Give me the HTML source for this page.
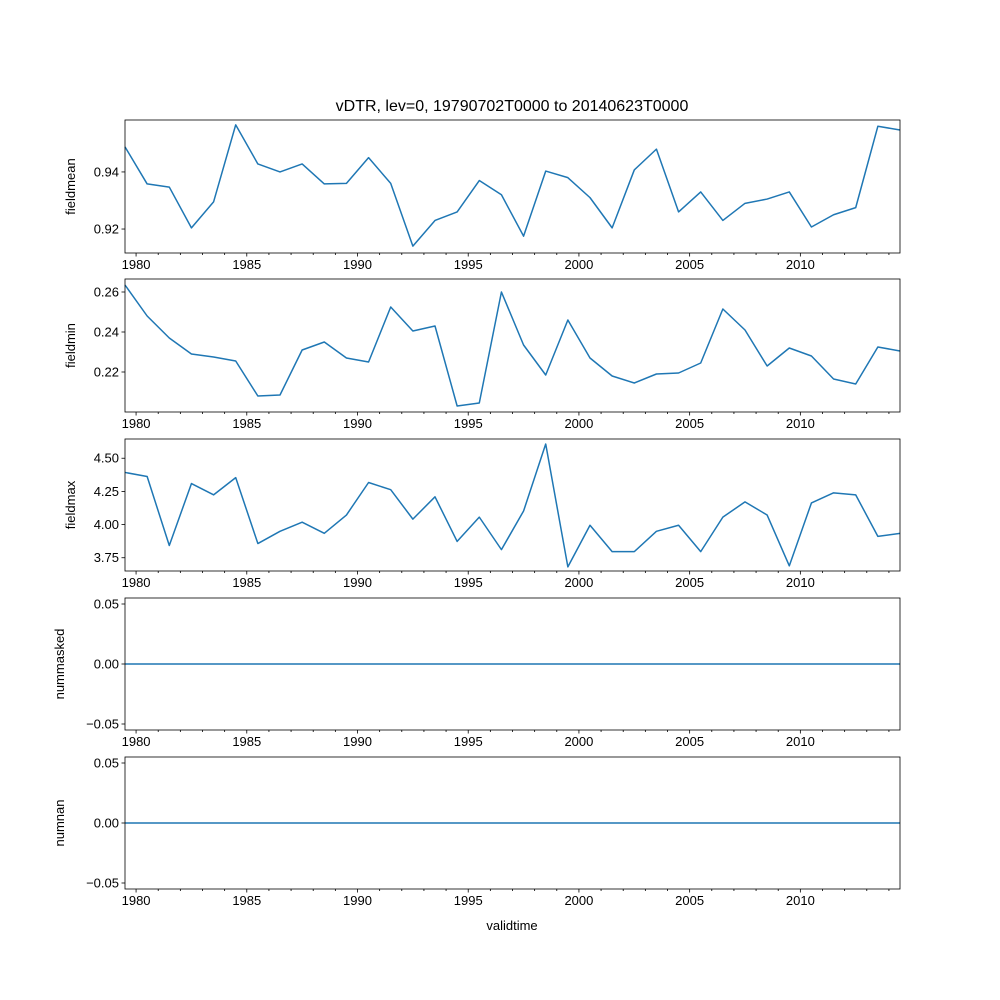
<!DOCTYPE html>
<html><head><meta charset="utf-8"><style>
body{margin:0;background:#fff}
svg{display:block;font-family:"Liberation Sans","DejaVu Sans",sans-serif}
</style></head><body>
<svg id="c" width="1000" height="1000"></svg>
<script>
const years = [];
for (let i = 0; i < 36; i++) years.push(1979.5 + i);
const fieldmean = [0.9488,0.9358,0.9347,0.9204,0.9295,0.9565,0.9428,0.94,0.9428,0.9358,0.936,0.945,0.936,0.914,0.923,0.926,0.937,0.932,0.9175,0.9403,0.938,0.931,0.9204,0.9407,0.948,0.926,0.933,0.923,0.929,0.9305,0.933,0.9207,0.925,0.9275,0.956,0.9547];
const fieldmin = [0.2635,0.248,0.237,0.229,0.2275,0.2255,0.208,0.2085,0.231,0.235,0.227,0.225,0.2525,0.2405,0.243,0.203,0.2045,0.26,0.2335,0.2185,0.246,0.227,0.218,0.2145,0.219,0.2195,0.2245,0.2515,0.241,0.223,0.232,0.228,0.2165,0.214,0.2325,0.2305];
const fieldmax = [4.393,4.362,3.842,4.309,4.224,4.354,3.857,3.949,4.018,3.934,4.072,4.317,4.263,4.041,4.209,3.873,4.056,3.811,4.102,4.607,3.681,3.995,3.796,3.796,3.949,3.995,3.796,4.056,4.171,4.072,3.689,4.163,4.239,4.224,3.911,3.934];
const nummasked = new Array(36).fill(0);
const numnan = new Array(36).fill(0);
const xTicks = [1980,1985,1990,1995,2000,2005,2010];
const meanTicks = [0.92,0.94];
const minTicks = [0.22,0.24,0.26];
const maxTicks = [3.75,4.00,4.25,4.50];
const zeroTicks = [-0.05,0,0.05];

const svg = document.getElementById('c');
const NS = 'http://www.w3.org/2000/svg';
function mk(tag, attrs, parent){const e=document.createElementNS(NS,tag);for(const k in attrs)e.setAttribute(k,attrs[k]);(parent||svg).appendChild(e);return e;}
const X0=125,X1=900,xmin=1979.5,xmax=2014.5;
const xs = v => X0 + (v - xmin) / (xmax - xmin) * (X1 - X0);

const panels = [
 {name:'fieldmean',data:fieldmean,ticks:meanTicks,dec:2,top:120,bot:253,lo:0.9116,hi:0.9582},
 {name:'fieldmin',data:fieldmin,ticks:minTicks,dec:2,top:279,bot:412,lo:0.2000,hi:0.2665},
 {name:'fieldmax',data:fieldmax,ticks:maxTicks,dec:2,top:439,bot:571,lo:3.65,hi:4.645},
 {name:'nummasked',data:nummasked,ticks:zeroTicks,dec:2,top:598,bot:730,lo:-0.055,hi:0.055},
 {name:'numnan',data:numnan,ticks:zeroTicks,dec:2,top:757,bot:889,lo:-0.055,hi:0.055}
];
panels.forEach(p=>{
  const g = mk('g',{});
  
  
  const ys = v => p.bot - (v - p.lo)/(p.hi - p.lo)*(p.bot - p.top);
  const pts = p.data.map((v,i)=>xs(years[i]).toFixed(2)+','+ys(v).toFixed(2)).join(' ');
  const line = mk('polyline',{points:pts,fill:'none',stroke:'#1f77b4','stroke-width':1.5,'stroke-linejoin':'round'},g);
  
  
  const fr = mk('rect',{x:X0,y:p.top,width:X1-X0,height:p.bot-p.top,fill:'none',stroke:'#000','stroke-width':0.8},g);
  
  
  for(let y=1980;y<=2014;y++){
    const major = xTicks.includes(y);
    mk('line',{x1:xs(y),x2:xs(y),y1:p.bot,y2:p.bot+(major?3.5:2),stroke:'#000','stroke-width':0.8},g);
  }
  xTicks.forEach(t=>{
    const tx = mk('text',{x:xs(t),y:p.bot+16,'font-size':13,'text-anchor':'middle'},g);
    tx.textContent=t;
    
    
  });
  p.ticks.forEach(t=>{
    const y=ys(t);
    mk('line',{x1:X0-3.5,x2:X0,y1:y,y2:y,stroke:'#000','stroke-width':0.8},g);
    const tx = mk('text',{x:X0-6,y:y+4.5,'font-size':13,'text-anchor':'end'},g);
    tx.textContent = (t<0?'\u2212':'')+Math.abs(t).toFixed(p.dec);
    
    
  });
  const yl = mk('text',{x:0,y:0,'font-size':13,'text-anchor':'middle',transform:`translate(${p.name.startsWith('num')?64:75},${(p.top+p.bot)/2}) rotate(-90)`},g);
  yl.textContent=p.name;
  
  
});
const title = mk('text',{x:512,y:111,'font-size':16,'text-anchor':'middle'});
title.textContent='vDTR, lev=0, 19790702T0000 to 20140623T0000';


const xl = mk('text',{x:512,y:930,'font-size':13,'text-anchor':'middle'});
xl.textContent='validtime';


</script>
</body></html>
